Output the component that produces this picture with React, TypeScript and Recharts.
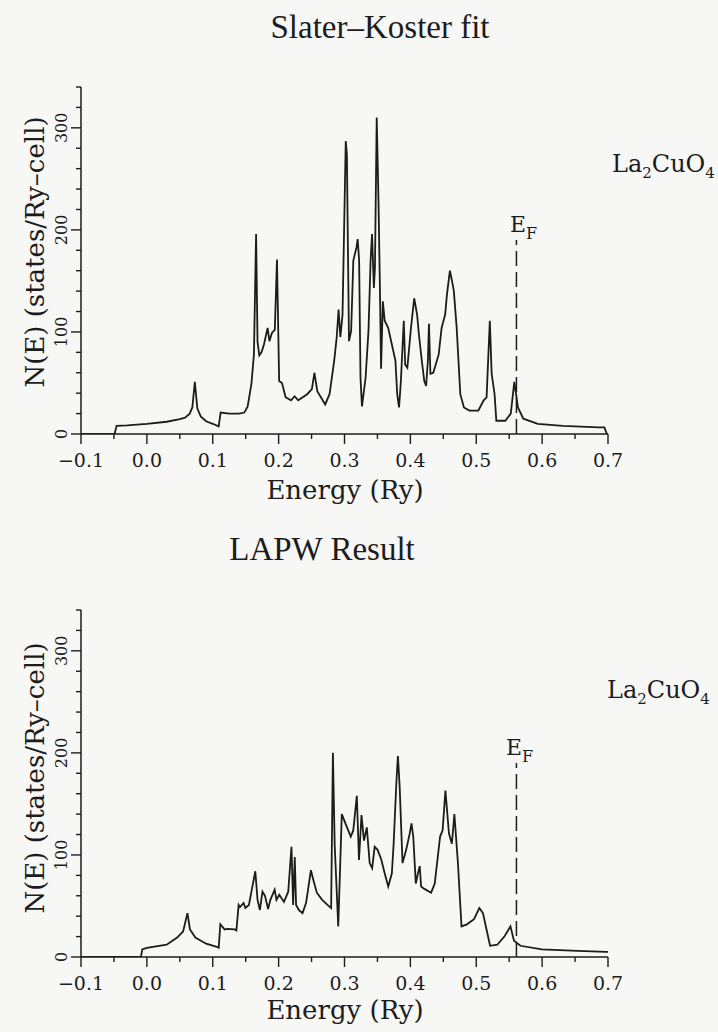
import { Line, LineChart, ReferenceLine, XAxis, YAxis } from "recharts";

const INK = "#1c1c1c";
const PAPER = "#f7f7f5";

const xTicks = [-0.1, -0.05, 0, 0.05, 0.1, 0.15, 0.2, 0.25, 0.3, 0.35, 0.4, 0.45, 0.5, 0.55, 0.6, 0.65, 0.7];
const yTicks = [0, 20, 40, 60, 80, 100, 120, 140, 160, 180, 200, 220, 240, 260, 280, 300, 320, 340];
const fermiEnergy = 0.561;
const fermiMarkTop = 190;

// Slater-Koster fit
const skEnergy = [
  -0.1, -0.049, -0.046, -0.03, 0.0, 0.03, 0.05, 0.058, 0.065, 0.069, 0.0728, 0.0766, 0.082, 0.09, 0.1,
  0.109, 0.112, 0.125, 0.14, 0.148, 0.153, 0.1587, 0.1625, 0.1658, 0.168, 0.1707, 0.174, 0.1778, 0.1833,
  0.186, 0.1898, 0.1942, 0.1975, 0.2008, 0.2051, 0.2106, 0.2188, 0.2243, 0.2297, 0.2434, 0.2505, 0.2543,
  0.2587, 0.2707, 0.2773, 0.2844, 0.2882, 0.291, 0.2937, 0.297, 0.3019, 0.3036, 0.3068, 0.3101, 0.3134,
  0.3156, 0.3183, 0.32, 0.3222, 0.3243, 0.3265, 0.332, 0.3364, 0.3396, 0.3418, 0.3446, 0.3462, 0.3489,
  0.3517, 0.3539, 0.3555, 0.3582, 0.361, 0.3663, 0.3718, 0.3773, 0.38, 0.3828, 0.3856, 0.39, 0.3921,
  0.3954, 0.4009, 0.4058, 0.4102, 0.4129, 0.4173, 0.4211, 0.4239, 0.4266, 0.4282, 0.4304, 0.4348, 0.443,
  0.4474, 0.4528, 0.4556, 0.46, 0.4632, 0.466, 0.4703, 0.4758, 0.4813, 0.4895, 0.5032, 0.5113, 0.5157,
  0.5206, 0.5234, 0.5278, 0.5305, 0.5442, 0.5524, 0.5578, 0.5633, 0.5715, 0.5934, 0.6316, 0.6863, 0.6945,
  0.6983, 0.7,
];
const skDos = [
  0, 0, 8, 8.5, 10, 12, 14.5, 16, 20, 26, 51, 25, 17, 12.5, 10,
  7.5, 21, 20, 20, 21, 27, 49, 78, 196, 90, 77, 80, 88, 104,
  91, 99, 102, 171, 52, 50, 36, 33, 37, 33, 39, 44, 60,
  42, 29, 39, 72, 95, 122, 95, 117, 287, 274, 91, 101, 170,
  176, 183, 191, 170, 55, 27, 55, 101, 170, 196, 143, 163, 310,
  225, 137, 64, 130, 111, 104, 88, 72, 39, 26, 52, 111, 68,
  65, 104, 133, 117, 98, 72, 52, 47, 72, 108, 59, 60, 78,
  104, 117, 137, 160, 150, 140, 104, 39, 26, 23, 23, 33, 36,
  111, 59, 39, 13, 13, 20, 51, 26, 15, 10, 8, 6.5, 6.5,
  0, 0,
];

// LAPW result
const lapwEnergy = [
  -0.1, -0.009, -0.007, 0.0, 0.03, 0.046, 0.055, 0.0616, 0.0654, 0.0736, 0.09, 0.1061, 0.109, 0.1115,
  0.1142, 0.118, 0.1224, 0.1332, 0.1359, 0.1393, 0.1414, 0.1468, 0.1495, 0.1549, 0.1593, 0.1646, 0.168,
  0.1715, 0.1755, 0.1793, 0.184, 0.1875, 0.194, 0.1967, 0.201, 0.2081, 0.2146, 0.2195, 0.222, 0.2245,
  0.2265, 0.2308, 0.2363, 0.2417, 0.249, 0.2525, 0.258, 0.2661, 0.2742, 0.2797, 0.2824, 0.2851, 0.2905,
  0.2959, 0.3014, 0.3095, 0.3133, 0.3187, 0.322, 0.3258, 0.3296, 0.3339, 0.3382, 0.342, 0.3458, 0.3502,
  0.3556, 0.361, 0.3664, 0.3719, 0.3746, 0.3789, 0.3811, 0.3838, 0.3881, 0.3936, 0.399, 0.4017, 0.4044,
  0.4082, 0.4115, 0.4142, 0.4163, 0.4207, 0.4315, 0.437, 0.4451, 0.4489, 0.4532, 0.4586, 0.463, 0.4668,
  0.4722, 0.4776, 0.4858, 0.4966, 0.5047, 0.5102, 0.5156, 0.521, 0.5319, 0.5427, 0.5519, 0.5573, 0.5671,
  0.5997, 0.6539, 0.6973, 0.7,
];
const lapwDos = [
  0, 0, 7.5, 9, 12, 19, 25, 43, 27, 19, 13, 10, 9, 32,
  30, 27, 27.5, 27, 26, 51, 49, 53, 48, 51, 66, 84, 56,
  46, 64, 60, 47, 56, 66, 56, 61, 54, 64, 108, 51, 98,
  51, 46, 43, 53, 85, 76, 63, 56, 51, 48, 200, 110, 30,
  140, 131, 118, 124, 158, 95, 139, 114, 127, 92, 87, 108, 105,
  96, 82, 69, 82, 111, 173, 197, 166, 92, 105, 121, 131, 118,
  72, 82, 89, 69, 67, 63, 72, 118, 124, 163, 121, 111, 140,
  92, 30, 32, 37, 48, 43, 27, 11, 12, 20, 30, 16, 11,
  7.5, 6, 5, 5,
];

function fmtEnergy(v: number): string {
  return v.toFixed(1).replace("-", "\u2212");
}

function XTick(props: any) {
  const { x, y, payload } = props;
  const v = payload.value as number;
  const major = Math.abs(v * 10 - Math.round(v * 10)) < 1e-6;
  return (
    <g>
      <line x1={x} y1={y} x2={x} y2={y + (major ? 10 : 5)} stroke={INK} strokeWidth={1.4} />
      {major && (
        <text x={x} y={y + 33} textAnchor="middle" fontSize={19} fill={INK}>
          {fmtEnergy(v)}
        </text>
      )}
    </g>
  );
}

function YTick(props: any) {
  const { x, y, payload } = props;
  const v = payload.value as number;
  const major = v % 100 === 0;
  return (
    <g>
      <line x1={x} y1={y} x2={x - (major ? 10 : 5)} y2={y} stroke={INK} strokeWidth={1.4} />
      {major && (
        <text
          transform={`translate(${x - 20},${y}) rotate(-90)`}
          textAnchor="middle"
          dominantBaseline="central"
          fontSize={16}
          fill={INK}
        >
          {v}
        </text>
      )}
    </g>
  );
}

function DosPanel({
  energy,
  dos,
  top,
  height,
  marginTop,
  marginBottom,
}: {
  energy: number[];
  dos: number[];
  top: number;
  height: number;
  marginTop: number;
  marginBottom: number;
}) {
  const data = energy.map((e, i) => ({ e, n: dos[i] }));
  return (
    <div style={{ position: "absolute", left: 0, top }}>
      <LineChart
        width={718}
        height={height}
        data={data}
        margin={{ top: marginTop, right: 110, bottom: marginBottom, left: 21 }}
      >
        <XAxis
          dataKey="e"
          type="number"
          domain={[-0.1, 0.7]}
          ticks={xTicks}
          interval={0}
          tick={(p: any) => <XTick {...p} />}
          tickLine={false}
          tickSize={0}
          tickMargin={0}
          height={30}
          axisLine={{ stroke: INK, strokeWidth: 1.5 }}
          allowDataOverflow
        />
        <YAxis
          type="number"
          domain={[0, 340]}
          ticks={yTicks}
          interval={0}
          tick={(p: any) => <YTick {...p} />}
          tickLine={false}
          tickSize={0}
          tickMargin={0}
          width={60}
          axisLine={{ stroke: INK, strokeWidth: 1.5 }}
          allowDataOverflow
        />
        <ReferenceLine
          segment={[
            { x: fermiEnergy, y: 0 },
            { x: fermiEnergy, y: fermiMarkTop },
          ]}
          stroke={INK}
          strokeWidth={1.5}
          strokeDasharray="15 6"
        />
        <Line
          dataKey="n"
          type="linear"
          stroke={INK}
          strokeWidth={1.8}
          dot={false}
          isAnimationActive={false}
        />
      </LineChart>
    </div>
  );
}

function Formula({ x, y }: { x: number; y: number }) {
  return (
    <text x={x} y={y} fontSize={24} fill={INK}>
      La
      <tspan dy={6} fontSize={15}>2</tspan>
      <tspan dy={-6}>CuO</tspan>
      <tspan dy={6} fontSize={15}>4</tspan>
    </text>
  );
}

function Fermi({ x, y }: { x: number; y: number }) {
  return (
    <text x={x} y={y} fontSize={22} fill={INK}>
      E
      <tspan dy={7} fontSize={16}>F</tspan>
    </text>
  );
}

export default function App() {
  return (
    <div
      style={{
        position: "absolute",
        left: 0,
        top: 0,
        width: 718,
        height: 1032,
        background: PAPER,
        fontFamily: "'DejaVu Serif', serif",
        overflow: "hidden",
      }}
    >
      <DosPanel energy={skEnergy} dos={skDos} top={0} height={520} marginTop={87} marginBottom={56} />
      <DosPanel energy={lapwEnergy} dos={lapwDos} top={520} height={512} marginTop={90} marginBottom={45} />
      <svg
        width={718}
        height={1032}
        style={{ position: "absolute", left: 0, top: 0, pointerEvents: "none" }}
      >
        <g fontFamily="'Liberation Serif', serif" fontSize={33} fill={INK} textAnchor="middle">
          <text x={380} y={38}>Slater–Koster fit</text>
          <text x={322} y={560}>LAPW Result</text>
        </g>
        <g fontSize={26} fill={INK} textAnchor="middle">
          <text x={345} y={499}>Energy (Ry)</text>
          <text x={345} y={1019}>Energy (Ry)</text>
          <text transform="translate(35,252) rotate(-90)" dominantBaseline="central">
            N(E) (states/Ry–cell)
          </text>
          <text transform="translate(35,778) rotate(-90)" dominantBaseline="central">
            N(E) (states/Ry–cell)
          </text>
        </g>
        <Formula x={612} y={172} />
        <Formula x={607} y={698} />
        <Fermi x={510} y={232} />
        <Fermi x={506} y={755} />
      </svg>
    </div>
  );
}
